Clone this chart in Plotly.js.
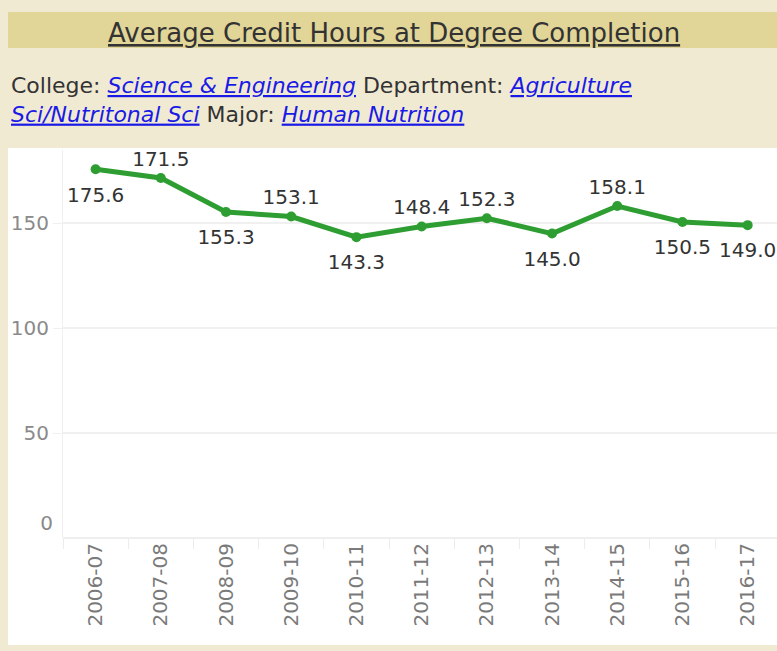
<!DOCTYPE html>
<html><head><meta charset="utf-8">
<script src="https://cdn.plot.ly/plotly-3.0.1.min.js"></script>
<style>html,body{margin:0;padding:0;background:#fff;}#chart{width:777px;height:651px;}</style>
</head><body><div id="chart"></div>
<script>
const years = ["2006-07","2007-08","2008-09","2009-10","2010-11","2011-12","2012-13","2013-14","2014-15","2015-16","2016-17"];
const avgHours = [175.6,171.5,155.3,153.1,143.3,148.4,152.3,145.0,158.1,150.5,149.0];
const labelSide = ["bottom","top","bottom","top","bottom","top","top","bottom","top","bottom","bottom"];
const yTicks = [50,100,150];

const W = 777, H = 651;
const L = 63, R = 0, T = 150, B = 113;
const pw = W - L - R, ph = H - T - B;
const px = x => (x - L) / pw;
const py = y => (H - B - y) / ph;

const beige = "#F1EAD3";
const bar = "#E1D597";
const green = "#2E9E32";
const numFont = "DejaVu Sans, Verdana, sans-serif";

const lineTrace = {
  x: years, y: avgHours, type: "scatter", mode: "lines+markers",
  line: {color: green, width: 5},
  marker: {color: green, size: 10},
  hoverinfo: "skip"
};
function labelTrace(side, msize) {
  const idx = years.map((_, i) => i).filter(i => labelSide[i] === side);
  return {
    x: idx.map(i => years[i]), y: idx.map(i => avgHours[i]), type: "scatter", mode: "markers+text",
    marker: {size: msize, color: "rgba(0,0,0,0)"},
    text: idx.map(i => avgHours[i].toFixed(1)),
    textposition: side + " center",
    textfont: {family: numFont, size: 20, color: "#333333"},
    cliponaxis: false, hoverinfo: "skip"
  };
}
const zeroTrace = {x: [years[0]], y: [0], yaxis: "y2", mode: "markers", marker: {opacity: 0}, hoverinfo: "skip", showlegend: false};

const layout = {
  width: W, height: H,
  margin: {l: L, r: R, t: T, b: B, pad: 0},
  paper_bgcolor: beige,
  plot_bgcolor: "rgba(0,0,0,0)",
  showlegend: false,
  font: {family: numFont},
  xaxis: {
    type: "category", range: [-0.5, 10.45],
    tickangle: -90, tickson: "boundaries", ticks: "outside", ticklen: 10, tickcolor: "#ECECEC",
    tickfont: {family: numFont, size: 20, color: "#7A7A7A"},
    showgrid: false, showline: false, zeroline: false, fixedrange: true
  },
  yaxis: {
    range: [0, 184.8], tickvals: yTicks, ticks: "outside", ticklen: 9, tickcolor: "#F0F0F0",
    ticklabelstandoff: 0,
    tickfont: {family: numFont, size: 20, color: "#8A8A8A"},
    showgrid: true, gridcolor: "#F0F0F0", gridwidth: 2,
    zeroline: true, zerolinecolor: "#EEEEEE", zerolinewidth: 2,
    showline: true, linecolor: "#F0F0F0", linewidth: 1, fixedrange: true
  },
  yaxis2: {
    overlaying: "y", side: "left", range: [0, 184.8], tickvals: [0],
    ticks: "", ticklabelshift: -15, ticklabelstandoff: 9,
    tickfont: {family: numFont, size: 20, color: "#8A8A8A"}, showgrid: false, zeroline: false, showline: false, fixedrange: true
  },
  shapes: [
    {type: "rect", xref: "paper", yref: "paper", x0: px(-5), x1: px(W + 5), y0: py(0), y1: py(-5), fillcolor: "#FFFFFF", line: {width: 0}, layer: "below"},
    {type: "rect", xref: "paper", yref: "paper", x0: px(8), x1: px(W + 5), y0: py(148), y1: py(645), fillcolor: "#FFFFFF", line: {width: 0}, layer: "below"},
    {type: "rect", xref: "paper", yref: "paper", x0: px(8), x1: px(W + 5), y0: py(12), y1: py(48), fillcolor: bar, line: {width: 0}, layer: "below"}
  ],
  annotations: [
    {xref: "paper", yref: "paper", x: px(394), y: py(33), xanchor: "center", yanchor: "middle", showarrow: false,
     text: "<u>Average Credit Hours at Degree Completion</u>",
     font: {family: "DejaVu Sans, sans-serif", size: 26, color: "#333333"}},
    {xref: "paper", yref: "paper", x: px(9), y: py(71), xanchor: "left", yanchor: "top", align: "left", showarrow: false,
     text: "College: <span style=\"color:#1A1AE6\"><i><u>Science &amp; Engineering</u></i></span> Department: <span style=\"color:#1A1AE6\"><i><u>Agriculture</u></i></span><br><span style=\"color:#1A1AE6\"><i><u>Sci/Nutritonal Sci</u></i></span> Major: <span style=\"color:#1A1AE6\"><i><u>Human Nutrition</u></i></span>",
     font: {family: "DejaVu Sans, sans-serif", size: 22, color: "#333333"}}
  ]
};
Plotly.newPlot("chart", [lineTrace, labelTrace("top", 10), labelTrace("bottom", 26), zeroTrace], layout, {staticPlot: true, displayModeBar: false});
</script></body></html>
